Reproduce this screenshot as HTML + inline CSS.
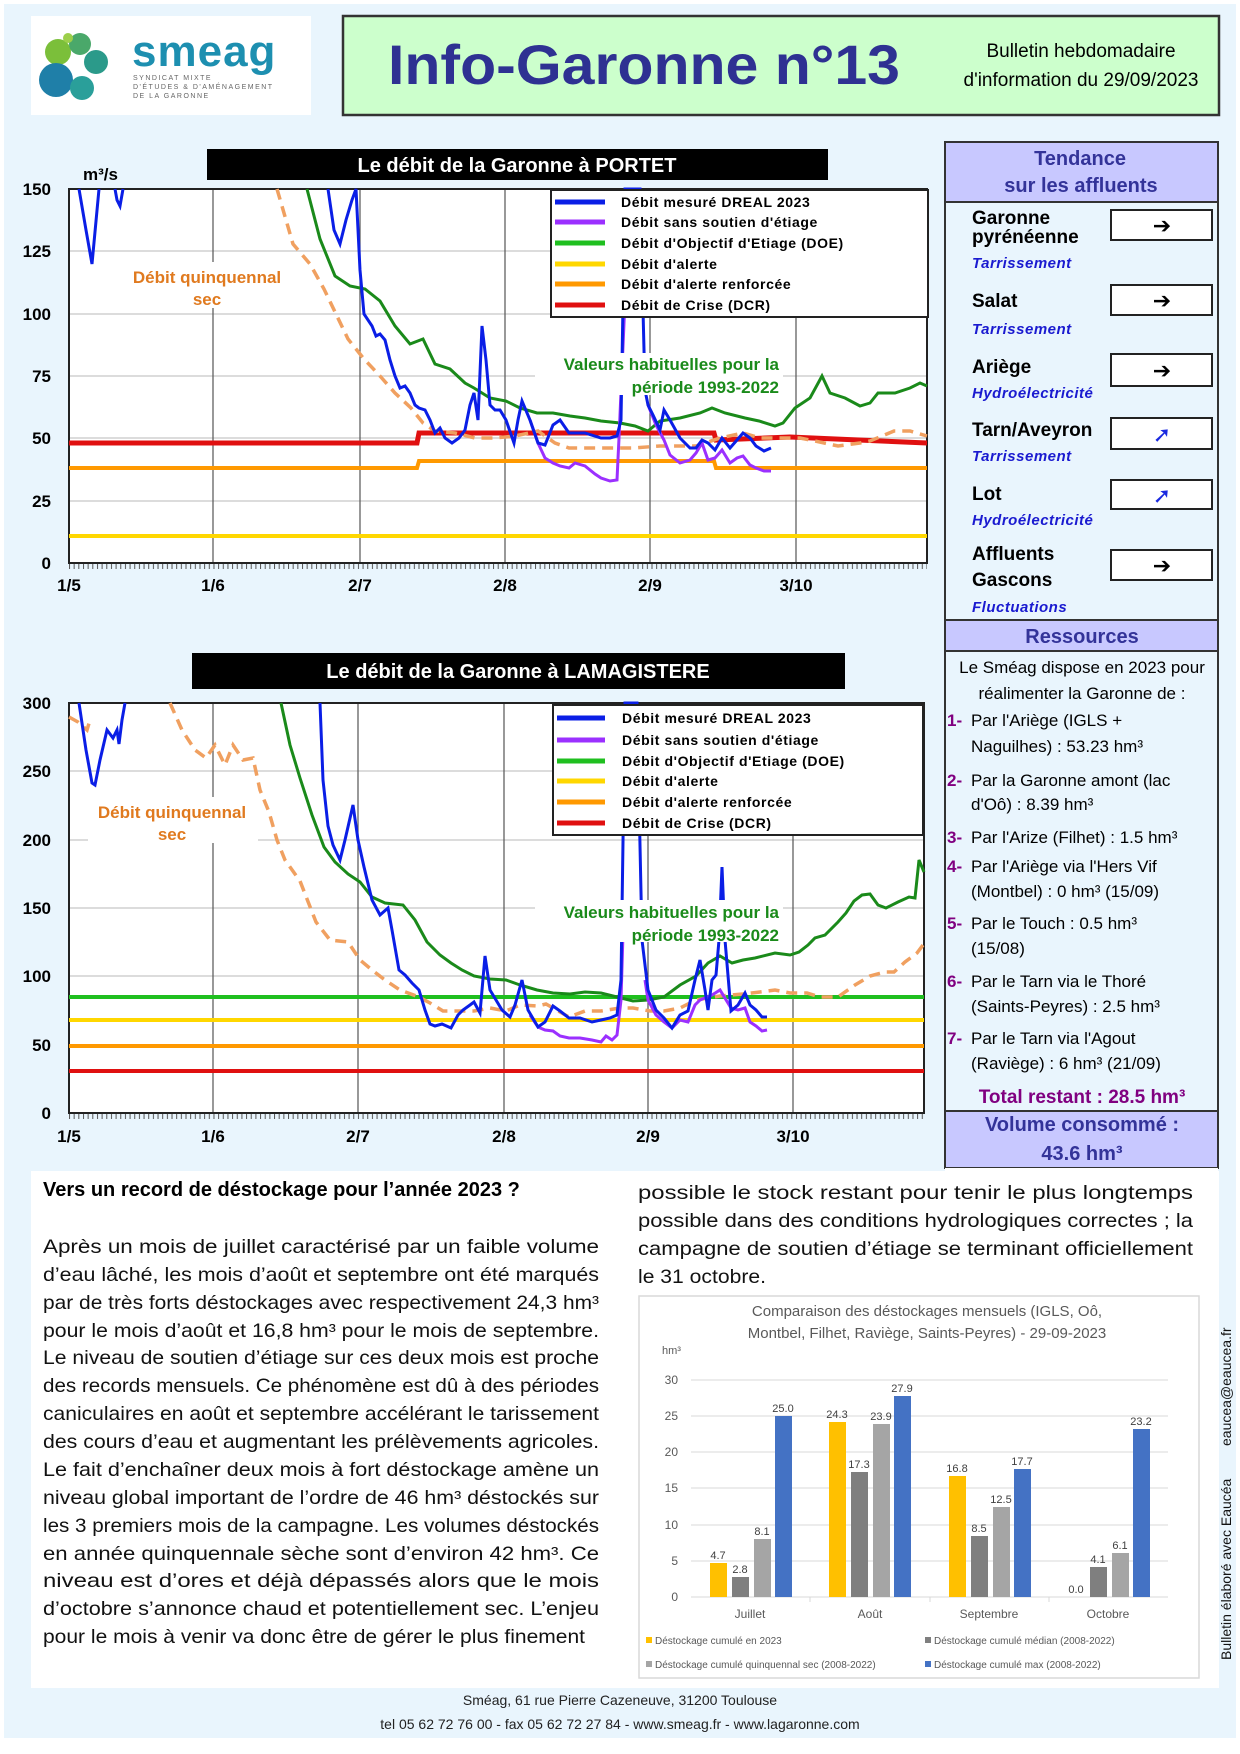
<!DOCTYPE html>
<html><head><meta charset="utf-8"><style>
html,body{margin:0;padding:0;background:#fff}
svg{display:block}
text{font-family:"Liberation Sans",sans-serif}
</style></head><body>
<svg width="1240" height="1754" viewBox="0 0 1240 1754" xmlns="http://www.w3.org/2000/svg">
<defs>
<pattern id="tk" x="69" y="0" width="4.66" height="8" patternUnits="userSpaceOnUse"><rect x="0" y="0" width="1" height="8" fill="#555"/></pattern>
</defs>
<rect x="4" y="4" width="1232" height="1734" fill="#e9f5fd"/>
<!-- logo -->
<rect x="31" y="16" width="280" height="99" fill="#fff"/>
<circle cx="58" cy="52" r="13" fill="#7bbf3a"/>
<circle cx="80" cy="44" r="11" fill="#4aa86a"/>
<circle cx="96" cy="62" r="12" fill="#2b9a8a"/>
<circle cx="56" cy="80" r="17" fill="#1f7fa8"/>
<circle cx="82" cy="88" r="12" fill="#2a9f9a"/>
<circle cx="68" cy="38" r="5" fill="#9ccf4a"/>
<text x="132" y="66" font-size="44" font-weight="bold" fill="#1d8fb0" letter-spacing="1">smeag</text>
<text x="133" y="80" font-size="7" fill="#666" letter-spacing="1.5">SYNDICAT MIXTE</text>
<text x="133" y="89" font-size="7" fill="#666" letter-spacing="1.5">D'ÉTUDES &amp; D'AMÉNAGEMENT</text>
<text x="133" y="98" font-size="7" fill="#666" letter-spacing="1.5">DE LA GARONNE</text>
<!-- header -->
<rect x="343" y="16" width="876" height="99" fill="#ccffcc" stroke="#333" stroke-width="2.5"/>
<text x="388" y="84" font-size="56" font-weight="bold" fill="#2e3192" textLength="512" lengthAdjust="spacingAndGlyphs">Info-Garonne n°13</text>
<text x="1081" y="57" font-size="19" fill="#000" text-anchor="middle">Bulletin hebdomadaire</text>
<text x="1081" y="86" font-size="19" fill="#000" text-anchor="middle">d'information du 29/09/2023</text>

<!-- ===== CHART 1 ===== -->
<rect x="207" y="149" width="621" height="31" fill="#000"/>
<text x="517" y="172" font-size="20" fill="#fff" text-anchor="middle" font-weight="bold">Le débit de la Garonne à PORTET</text>
<text x="83" y="180" font-size="17" font-weight="bold">m³/s</text>
<rect x="69" y="189" width="858" height="374" fill="#fff"/>
<g stroke="#c8c8c8" stroke-width="1.2">
<line x1="69" y1="251" x2="927" y2="251"/><line x1="69" y1="314" x2="927" y2="314"/><line x1="69" y1="376" x2="927" y2="376"/><line x1="69" y1="438" x2="927" y2="438"/><line x1="69" y1="501" x2="927" y2="501"/>
</g>
<g stroke="#555" stroke-width="1.2">
<line x1="213" y1="189" x2="213" y2="563"/><line x1="360" y1="189" x2="360" y2="563"/><line x1="505" y1="189" x2="505" y2="563"/><line x1="650" y1="189" x2="650" y2="563"/><line x1="796" y1="189" x2="796" y2="563"/>
</g>
<rect x="69" y="563" width="858" height="6" fill="url(#tk)"/>
<rect x="69" y="189" width="858" height="374" fill="none" stroke="#222" stroke-width="2"/>
<g font-size="17" font-weight="bold" text-anchor="end">
<text x="51" y="195">150</text><text x="51" y="257">125</text><text x="51" y="320">100</text><text x="51" y="382">75</text><text x="51" y="444">50</text><text x="51" y="507">25</text><text x="51" y="569">0</text>
</g>
<g font-size="17" font-weight="bold" text-anchor="middle">
<text x="69" y="591">1/5</text><text x="213" y="591">1/6</text><text x="360" y="591">2/7</text><text x="505" y="591">2/8</text><text x="650" y="591">2/9</text><text x="796" y="591">3/10</text>
</g>
<rect x="120" y="262" width="175" height="46" fill="#fff"/>
<text x="207" y="283" font-size="17" font-weight="bold" fill="#e07a1f" text-anchor="middle">Débit quinquennal</text>
<text x="207" y="305" font-size="17" font-weight="bold" fill="#e07a1f" text-anchor="middle">sec</text>
<!-- lines chart1 -->
<polyline fill="none" stroke="#ffd700" stroke-width="4" points="69,536 927,536"/>
<polyline fill="none" stroke="#ff9900" stroke-width="4" points="69,468 417,468 419,461 714,461 716,468 927,468"/>
<polyline fill="none" stroke="#e01010" stroke-width="5" points="69,443 417,443 419,433 714,433 716,440 790,437 927,443"/>
<polyline fill="none" stroke="#1a8a1a" stroke-width="3" points="307,189 320,239 335,276 350,286 365,289 380,301 395,326 410,344 423,339 435,364 450,369 465,383 474,388 490,398 506,401 520,408 537,413 553,413 570,416 585,418 601,421 620,423 635,426 648,431 660,421 680,418 700,413 712,408 725,413 745,418 759,421 775,426 783,423 795,408 810,398 822,376 830,393 845,398 860,406 870,403 878,393 895,393 910,388 920,383 927,386"/>
<polyline fill="none" stroke="#f0a060" stroke-width="3.5" stroke-dasharray="11,7" points="277,189 293,244 310,264 324,289 336,314 348,339 364,359 380,376 395,393 411,408 423,423 435,431 455,433 475,438 495,438 515,436 538,431 555,443 569,448 600,448 633,448 660,446 696,446 720,438 743,433 760,438 783,438 800,438 815,441 838,446 860,443 870,441 894,431 910,431 927,436"/>
<polyline fill="none" stroke="#9b30ff" stroke-width="3" points="530,420 538,443 545,458 553,463 560,466 569,468 575,463 585,466 595,474 601,478 610,481 617,480 619,438 625,300"/>
<polyline fill="none" stroke="#9b30ff" stroke-width="3" points="648,405 656,425 664,440 670,455 680,463 690,460 696,453 702,443 708,460 715,458 722,450 730,463 737,458 743,456 750,465 756,468 764,471 771,471"/>
<polyline fill="none" stroke="#0a1ee6" stroke-width="3" points="79,189 86,230 92,264 99,189"/>
<polyline fill="none" stroke="#0a1ee6" stroke-width="3" points="115,189 117,200 120,206 123,189"/>
<polyline fill="none" stroke="#0a1ee6" stroke-width="3" points="328,189 334,230 340,244 346,220 352,200 356,189 360,270 364,314 372,326 376,336 380,334 385,340 390,360 395,376 400,388 405,386 410,393 415,405 419,408 425,410 430,420 435,433 440,428 445,438 452,443 459,438 465,430 470,405 474,393 478,420 482,326 486,360 490,405 495,410 500,410 506,420 514,443 518,420 522,401 530,420 538,443 545,445 553,425 560,420 569,433 585,433 601,438 610,438 617,436 621,420 625,189 632,189 640,189 645,390 648,405 653,415 660,430 664,410 670,420 680,438 690,448 696,448 702,440 708,443 715,450 722,438 730,448 737,440 743,433 750,438 756,446 764,451 771,448"/>
<rect x="535" y="353" width="248" height="42" fill="#fff"/>
<text x="779" y="370" font-size="17" font-weight="bold" fill="#1a8a1a" text-anchor="end">Valeurs habituelles pour la</text>
<text x="779" y="393" font-size="17" font-weight="bold" fill="#1a8a1a" text-anchor="end">période 1993-2022</text>
<!-- legend 1 -->
<rect x="551" y="190" width="377" height="127" fill="#fff" stroke="#222" stroke-width="2"/>
<g stroke-width="5"><line x1="555" y1="202" x2="605" y2="202" stroke="#0a1ee6"/><line x1="555" y1="222" x2="605" y2="222" stroke="#9b30ff"/><line x1="555" y1="243" x2="605" y2="243" stroke="#1fbf1f"/><line x1="555" y1="264" x2="605" y2="264" stroke="#ffd700"/><line x1="555" y1="284" x2="605" y2="284" stroke="#ff9900"/><line x1="555" y1="305" x2="605" y2="305" stroke="#e01010"/></g>
<g font-size="14" font-weight="bold" letter-spacing="0.6"><text x="621" y="207">Débit mesuré DREAL 2023</text><text x="621" y="227">Débit sans soutien d'étiage</text><text x="621" y="248">Débit d'Objectif d'Etiage (DOE)</text><text x="621" y="269">Débit d'alerte</text><text x="621" y="289">Débit d'alerte renforcée</text><text x="621" y="310">Débit de Crise (DCR)</text></g>

<!-- ===== CHART 2 ===== -->
<rect x="192" y="653" width="653" height="36" fill="#000"/>
<text x="518" y="678" font-size="20" fill="#fff" text-anchor="middle" font-weight="bold">Le débit de la Garonne à LAMAGISTERE</text>
<rect x="69" y="703" width="855" height="410" fill="#fff"/>
<g stroke="#c8c8c8" stroke-width="1.2">
<line x1="69" y1="771" x2="924" y2="771"/><line x1="69" y1="840" x2="924" y2="840"/><line x1="69" y1="908" x2="924" y2="908"/><line x1="69" y1="976" x2="924" y2="976"/><line x1="69" y1="1045" x2="924" y2="1045"/>
</g>
<g stroke="#555" stroke-width="1.2">
<line x1="213" y1="703" x2="213" y2="1113"/><line x1="358" y1="703" x2="358" y2="1113"/><line x1="504" y1="703" x2="504" y2="1113"/><line x1="648" y1="703" x2="648" y2="1113"/><line x1="793" y1="703" x2="793" y2="1113"/>
</g>
<rect x="69" y="1113" width="855" height="6" fill="url(#tk)"/>
<rect x="69" y="703" width="855" height="410" fill="none" stroke="#222" stroke-width="2"/>
<g font-size="17" font-weight="bold" text-anchor="end">
<text x="51" y="709">300</text><text x="51" y="777">250</text><text x="51" y="846">200</text><text x="51" y="914">150</text><text x="51" y="982">100</text><text x="51" y="1051">50</text><text x="51" y="1119">0</text>
</g>
<g font-size="17" font-weight="bold" text-anchor="middle">
<text x="69" y="1142">1/5</text><text x="213" y="1142">1/6</text><text x="358" y="1142">2/7</text><text x="504" y="1142">2/8</text><text x="648" y="1142">2/9</text><text x="793" y="1142">3/10</text>
</g>
<rect x="88" y="797" width="170" height="46" fill="#fff"/>
<text x="172" y="818" font-size="17" font-weight="bold" fill="#e07a1f" text-anchor="middle">Débit quinquennal</text>
<text x="172" y="840" font-size="17" font-weight="bold" fill="#e07a1f" text-anchor="middle">sec</text>
<polyline fill="none" stroke="#1fbf1f" stroke-width="4" points="69,997 924,997"/>
<polyline fill="none" stroke="#ffd700" stroke-width="4" points="69,1020 924,1020"/>
<polyline fill="none" stroke="#ff9900" stroke-width="4" points="69,1046 924,1046"/>
<polyline fill="none" stroke="#e01010" stroke-width="4" points="69,1071 924,1071"/>
<polyline fill="none" stroke="#1a8a1a" stroke-width="3" points="281,703 290,745 300,778 312,815 324,847 335,862 348,874 360,882 372,897 385,903 403,905 415,920 427,942 440,955 451,963 462,970 474,976 490,979 506,980 520,985 537,990 553,993 570,994 585,992 601,993 617,997 633,1001 648,1000 664,997 680,985 696,976 708,963 720,956 732,963 743,960 755,958 775,953 790,955 799,952 808,945 815,938 825,935 838,922 846,913 854,901 862,895 870,894 878,905 886,908 898,902 909,897 915,898 919,860 924,872"/>
<polyline fill="none" stroke="#f0a060" stroke-width="3.5" stroke-dasharray="11,7" points="69,717 78,722 87,730 90,720"/>
<polyline fill="none" stroke="#f0a060" stroke-width="3.5" stroke-dasharray="11,7" points="170,703 182,730 195,750 206,758 215,745 225,765 233,745 243,760 253,758 260,790 269,812 277,840 285,860 300,881 316,922 330,940 348,942 360,960 372,970 385,980 400,990 419,997 430,1003 443,1011 460,1011 474,1011 490,1008 506,1011 520,1005 538,1006 546,1004 560,1012 569,1017 585,1011 601,1011 620,1008 633,1008 650,1011 664,1011 680,1008 696,1000 720,996 743,994 760,992 775,990 790,993 807,993 820,997 838,997 855,985 870,976 885,972 894,972 905,962 917,953 923,945"/>
<polyline fill="none" stroke="#9b30ff" stroke-width="3" points="530,1015 538,1027 545,1030 553,1031 560,1036 569,1038 580,1038 592,1040 601,1042 606,1036 612,1040 617,1035 621,1000 624,900"/>
<polyline fill="none" stroke="#9b30ff" stroke-width="3" points="645,980 648,1000 656,1015 664,1022 672,1028 680,1020 688,1022 695,1005 700,1000 712,995 720,990 731,1008 738,1010 745,1008 750,1022 756,1026 762,1031 767,1030"/>
<polyline fill="none" stroke="#0a1ee6" stroke-width="3" points="79,703 86,750 92,783 95,785 100,760 107,730 113,738 117,730 119,744 122,720 125,703"/>
<polyline fill="none" stroke="#0a1ee6" stroke-width="3" points="320,703 323,780 328,826 333,845 340,860 345,840 353,805 358,840 364,867 372,900 380,915 388,908 392,930 399,970 405,975 412,983 419,990 425,1010 430,1024 435,1026 442,1024 451,1028 458,1015 463,1010 470,1005 474,1002 480,1013 485,956 490,990 496,1000 502,1010 510,1017 515,1005 522,980 528,1010 538,1027 545,1022 553,1006 560,1011 569,1018 580,1018 592,1022 601,1020 610,1018 617,1015 621,980 625,703 637,703 642,940 648,990 656,1010 664,1018 672,1028 680,1015 688,1011 695,980 700,960 705,990 708,1010 712,980 716,975 719,940 722,867 725,940 731,1011 738,1005 745,993 750,1005 756,1010 762,1017 767,1017"/>
<rect x="535" y="900" width="248" height="42" fill="#fff"/>
<text x="779" y="918" font-size="17" font-weight="bold" fill="#1a8a1a" text-anchor="end">Valeurs habituelles pour la</text>
<text x="779" y="941" font-size="17" font-weight="bold" fill="#1a8a1a" text-anchor="end">période 1993-2022</text>
<rect x="553" y="705" width="370" height="130" fill="#fff" stroke="#222" stroke-width="2"/>
<g stroke-width="5"><line x1="557" y1="718" x2="605" y2="718" stroke="#0a1ee6"/><line x1="557" y1="740" x2="605" y2="740" stroke="#9b30ff"/><line x1="557" y1="761" x2="605" y2="761" stroke="#1fbf1f"/><line x1="557" y1="781" x2="605" y2="781" stroke="#ffd700"/><line x1="557" y1="802" x2="605" y2="802" stroke="#ff9900"/><line x1="557" y1="823" x2="605" y2="823" stroke="#e01010"/></g>
<g font-size="14" font-weight="bold" letter-spacing="0.6"><text x="622" y="723">Débit mesuré DREAL 2023</text><text x="622" y="745">Débit sans soutien d'étiage</text><text x="622" y="766">Débit d'Objectif d'Etiage (DOE)</text><text x="622" y="786">Débit d'alerte</text><text x="622" y="807">Débit d'alerte renforcée</text><text x="622" y="828">Débit de Crise (DCR)</text></g>

<!-- ===== RIGHT PANEL ===== -->
<rect x="945" y="142" width="273" height="1026" fill="#e9f5fd" stroke="#333" stroke-width="2"/>
<rect x="945" y="142" width="273" height="60" fill="#c8c8ff" stroke="#333" stroke-width="2"/>
<text x="1080" y="165" font-size="20" font-weight="bold" fill="#333399" text-anchor="middle">Tendance</text>
<text x="1081" y="192" font-size="20" font-weight="bold" fill="#333399" text-anchor="middle">sur les affluents</text>
<g font-size="19" font-weight="bold" fill="#000">
<text x="972" y="224">Garonne</text><text x="972" y="243">pyrénéenne</text>
<text x="972" y="307">Salat</text>
<text x="972" y="373">Ariège</text>
<text x="972" y="436">Tarn/Aveyron</text>
<text x="972" y="500">Lot</text>
<text x="972" y="560">Affluents</text><text x="972" y="586">Gascons</text>
</g>
<g font-size="15" font-style="italic" font-weight="bold" fill="#1a1ad0" letter-spacing="0.5">
<text x="972" y="268">Tarrissement</text>
<text x="972" y="334">Tarrissement</text>
<text x="972" y="398">Hydroélectricité</text>
<text x="972" y="461">Tarrissement</text>
<text x="972" y="525">Hydroélectricité</text>
<text x="972" y="612">Fluctuations</text>
</g>
<g fill="#fff" stroke="#222" stroke-width="2">
<rect x="1111" y="210" width="101" height="30"/><rect x="1111" y="285" width="101" height="30"/><rect x="1111" y="354" width="101" height="32"/><rect x="1111" y="418" width="101" height="31"/><rect x="1111" y="480" width="101" height="29"/><rect x="1111" y="550" width="101" height="30"/>
</g>
<g font-size="22" font-family="DejaVu Sans" text-anchor="middle">
<text x="1162" y="233" font-family="DejaVu Sans">➔</text><text x="1162" y="308" font-family="DejaVu Sans">➔</text><text x="1162" y="378" font-family="DejaVu Sans">➔</text><text x="1162" y="573" font-family="DejaVu Sans">➔</text>
<text x="1162" y="442" fill="#1a2ae0" font-family="DejaVu Sans">➚</text><text x="1162" y="503" fill="#1a2ae0" font-family="DejaVu Sans">➚</text>
</g>
<rect x="945" y="620" width="273" height="31" fill="#c8c8ff" stroke="#333" stroke-width="2"/>
<text x="1082" y="643" font-size="20" font-weight="bold" fill="#333399" text-anchor="middle">Ressources</text>
<g font-size="17" fill="#000">
<text x="1082" y="673" text-anchor="middle">Le Sméag dispose en 2023 pour</text>
<text x="1082" y="699" text-anchor="middle">réalimenter la Garonne de :</text>
<text x="971" y="726">Par l'Ariège (IGLS +</text><text x="971" y="752">Naguilhes) : 53.23 hm³</text>
<text x="971" y="786">Par la Garonne amont (lac</text><text x="971" y="810">d'Oô) : 8.39 hm³</text>
<text x="971" y="843">Par l'Arize (Filhet) : 1.5 hm³</text>
<text x="971" y="872">Par l'Ariège via l'Hers Vif</text><text x="971" y="897">(Montbel) : 0 hm³ (15/09)</text>
<text x="971" y="929">Par le Touch :  0.5 hm³</text><text x="971" y="954">(15/08)</text>
<text x="971" y="987">Par le Tarn via le Thoré</text><text x="971" y="1012">(Saints-Peyres) : 2.5 hm³</text>
<text x="971" y="1044">Par le Tarn via l'Agout</text><text x="971" y="1069">(Raviège) : 6 hm³ (21/09)</text>
</g>
<g font-size="17" font-weight="bold" fill="#800080">
<text x="947" y="726">1-</text><text x="947" y="786">2-</text><text x="947" y="843">3-</text><text x="947" y="872">4-</text><text x="947" y="929">5-</text><text x="947" y="987">6-</text><text x="947" y="1044">7-</text>
</g>
<text x="1082" y="1103" font-size="19" font-weight="bold" fill="#800080" text-anchor="middle">Total restant : 28.5 hm³</text>
<rect x="945" y="1111" width="273" height="57" fill="#c8c8ff" stroke="#333" stroke-width="2"/>
<text x="1082" y="1131" font-size="20" font-weight="bold" fill="#333399" text-anchor="middle">Volume consommé  :</text>
<text x="1082" y="1160" font-size="20" font-weight="bold" fill="#333399" text-anchor="middle">43.6 hm³</text>

<!-- ===== TEXT AREA ===== -->
<rect x="31" y="1171" width="1188" height="517" fill="#fff"/>
<rect x="945" y="1168" width="273" height="3" fill="#fff"/>
<text x="43" y="1196" font-size="20" font-weight="bold">Vers un record de déstockage pour l’année 2023 ?</text>
<g font-size="19.5" fill="#111" lengthAdjust="spacingAndGlyphs">
<text x="43" y="1253" textLength="556" lengthAdjust="spacingAndGlyphs">Après un mois de juillet caractérisé par un faible volume</text>
<text x="43" y="1281" textLength="556" lengthAdjust="spacingAndGlyphs">d’eau lâché, les mois d’août et septembre ont été marqués</text>
<text x="43" y="1309" textLength="556" lengthAdjust="spacingAndGlyphs">par de très forts déstockages avec respectivement 24,3 hm³</text>
<text x="43" y="1337" textLength="556" lengthAdjust="spacingAndGlyphs">pour le mois d’août et 16,8 hm³ pour le mois de septembre.</text>
<text x="43" y="1364" textLength="556" lengthAdjust="spacingAndGlyphs">Le niveau de soutien d’étiage sur ces deux mois est proche</text>
<text x="43" y="1392" textLength="556" lengthAdjust="spacingAndGlyphs">des records mensuels. Ce phénomène est dû à des périodes</text>
<text x="43" y="1420" textLength="556" lengthAdjust="spacingAndGlyphs">caniculaires en août et septembre accélérant le tarissement</text>
<text x="43" y="1448" textLength="556" lengthAdjust="spacingAndGlyphs">des cours d’eau et augmentant les prélèvements agricoles.</text>
<text x="43" y="1476" textLength="556" lengthAdjust="spacingAndGlyphs">Le fait d’enchaîner deux mois à fort déstockage amène un</text>
<text x="43" y="1504" textLength="556" lengthAdjust="spacingAndGlyphs">niveau global important de l’ordre de 46 hm³ déstockés sur</text>
<text x="43" y="1532" textLength="556" lengthAdjust="spacingAndGlyphs">les 3 premiers mois de la campagne. Les volumes déstockés</text>
<text x="43" y="1560" textLength="556" lengthAdjust="spacingAndGlyphs">en année quinquennale sèche sont d’environ 42 hm³. Ce</text>
<text x="43" y="1587" textLength="556" lengthAdjust="spacingAndGlyphs">niveau est d’ores et déjà dépassés alors que le mois</text>
<text x="43" y="1615" textLength="556" lengthAdjust="spacingAndGlyphs">d’octobre s’annonce chaud et potentiellement sec.  L’enjeu</text>
<text x="43" y="1643" textLength="542" lengthAdjust="spacingAndGlyphs">pour le mois à venir va donc être de gérer le plus finement</text>
<text x="638" y="1199" textLength="555" lengthAdjust="spacingAndGlyphs">possible le stock restant pour tenir le plus longtemps</text>
<text x="638" y="1227" textLength="555" lengthAdjust="spacingAndGlyphs">possible dans des conditions hydrologiques correctes ; la</text>
<text x="638" y="1255" textLength="555" lengthAdjust="spacingAndGlyphs">campagne de soutien d’étiage se terminant officiellement</text>
<text x="638" y="1283" textLength="128" lengthAdjust="spacingAndGlyphs">le 31 octobre.</text>
</g>

<!-- bar chart -->
<rect x="639" y="1296" width="560" height="382" fill="#fff" stroke="#d9d9d9" stroke-width="1.5"/>
<text x="927" y="1316" font-size="15" fill="#595959" text-anchor="middle">Comparaison des déstockages mensuels (IGLS, Oô,</text>
<text x="927" y="1338" font-size="15" fill="#595959" text-anchor="middle">Montbel, Filhet, Raviège, Saints-Peyres) - 29-09-2023</text>
<text x="662" y="1354" font-size="11" fill="#595959">hm³</text>
<g stroke="#d9d9d9" stroke-width="1">
<line x1="691" y1="1380" x2="1168" y2="1380"/><line x1="691" y1="1416" x2="1168" y2="1416"/><line x1="691" y1="1452" x2="1168" y2="1452"/><line x1="691" y1="1488" x2="1168" y2="1488"/><line x1="691" y1="1525" x2="1168" y2="1525"/><line x1="691" y1="1561" x2="1168" y2="1561"/><line x1="691" y1="1597" x2="1168" y2="1597"/>
<line x1="810" y1="1597" x2="810" y2="1602"/><line x1="930" y1="1597" x2="930" y2="1602"/><line x1="1049" y1="1597" x2="1049" y2="1602"/>
</g>
<g font-size="12" fill="#595959" text-anchor="end">
<text x="678" y="1384">30</text><text x="678" y="1420">25</text><text x="678" y="1456">20</text><text x="678" y="1492">15</text><text x="678" y="1529">10</text><text x="678" y="1565">5</text><text x="678" y="1601">0</text>
</g>
<g>
<rect x="710" y="1563" width="17" height="34" fill="#ffc000"/><rect x="732" y="1577" width="17" height="20" fill="#7f7f7f"/><rect x="754" y="1539" width="17" height="58" fill="#a5a5a5"/><rect x="775" y="1416" width="17" height="181" fill="#4472c4"/>
<rect x="829" y="1422" width="17" height="175" fill="#ffc000"/><rect x="851" y="1472" width="17" height="125" fill="#7f7f7f"/><rect x="873" y="1424" width="17" height="173" fill="#a5a5a5"/><rect x="894" y="1396" width="17" height="201" fill="#4472c4"/>
<rect x="949" y="1476" width="17" height="121" fill="#ffc000"/><rect x="971" y="1536" width="17" height="61" fill="#7f7f7f"/><rect x="993" y="1507" width="17" height="90" fill="#a5a5a5"/><rect x="1014" y="1469" width="17" height="128" fill="#4472c4"/>
<rect x="1090" y="1567" width="17" height="30" fill="#7f7f7f"/><rect x="1112" y="1553" width="17" height="44" fill="#a5a5a5"/><rect x="1133" y="1429" width="17" height="168" fill="#4472c4"/>
</g>
<g font-size="11" fill="#404040" text-anchor="middle">
<text x="718" y="1559">4.7</text><text x="740" y="1573">2.8</text><text x="762" y="1535">8.1</text><text x="783" y="1412">25.0</text>
<text x="837" y="1418">24.3</text><text x="859" y="1468">17.3</text><text x="881" y="1420">23.9</text><text x="902" y="1392">27.9</text>
<text x="957" y="1472">16.8</text><text x="979" y="1532">8.5</text><text x="1001" y="1503">12.5</text><text x="1022" y="1465">17.7</text>
<text x="1076" y="1593">0.0</text><text x="1098" y="1563">4.1</text><text x="1120" y="1549">6.1</text><text x="1141" y="1425">23.2</text>
</g>
<g font-size="12" fill="#595959" text-anchor="middle">
<text x="750" y="1618">Juillet</text><text x="870" y="1618">Août</text><text x="989" y="1618">Septembre</text><text x="1108" y="1618">Octobre</text>
</g>
<g font-size="10" fill="#595959">
<rect x="646" y="1637" width="6" height="6" fill="#ffc000"/><text x="655" y="1644">Déstockage cumulé en 2023</text>
<rect x="925" y="1637" width="6" height="6" fill="#7f7f7f"/><text x="934" y="1644">Déstockage cumulé médian (2008-2022)</text>
<rect x="646" y="1661" width="6" height="6" fill="#a5a5a5"/><text x="655" y="1668">Déstockage cumulé quinquennal sec (2008-2022)</text>
<rect x="925" y="1661" width="6" height="6" fill="#4472c4"/><text x="934" y="1668">Déstockage cumulé max (2008-2022)</text>
</g>
<rect x="1219" y="1171" width="17" height="517" fill="#e9f5fd"/>
<text transform="translate(1231,1660) rotate(-90)" font-size="14" fill="#111">Bulletin élaboré avec Eaucéa</text>
<text transform="translate(1231,1446) rotate(-90)" font-size="14" fill="#111">eaucea@eaucea.fr</text>
<!-- footer -->
<text x="620" y="1705" font-size="14" fill="#222" text-anchor="middle">Sméag, 61 rue Pierre Cazeneuve, 31200 Toulouse</text>
<text x="620" y="1729" font-size="14" fill="#222" text-anchor="middle">tel 05 62 72 76 00 - fax 05 62 72 27 84  - www.smeag.fr - www.lagaronne.com</text>
</svg>
</body></html>
